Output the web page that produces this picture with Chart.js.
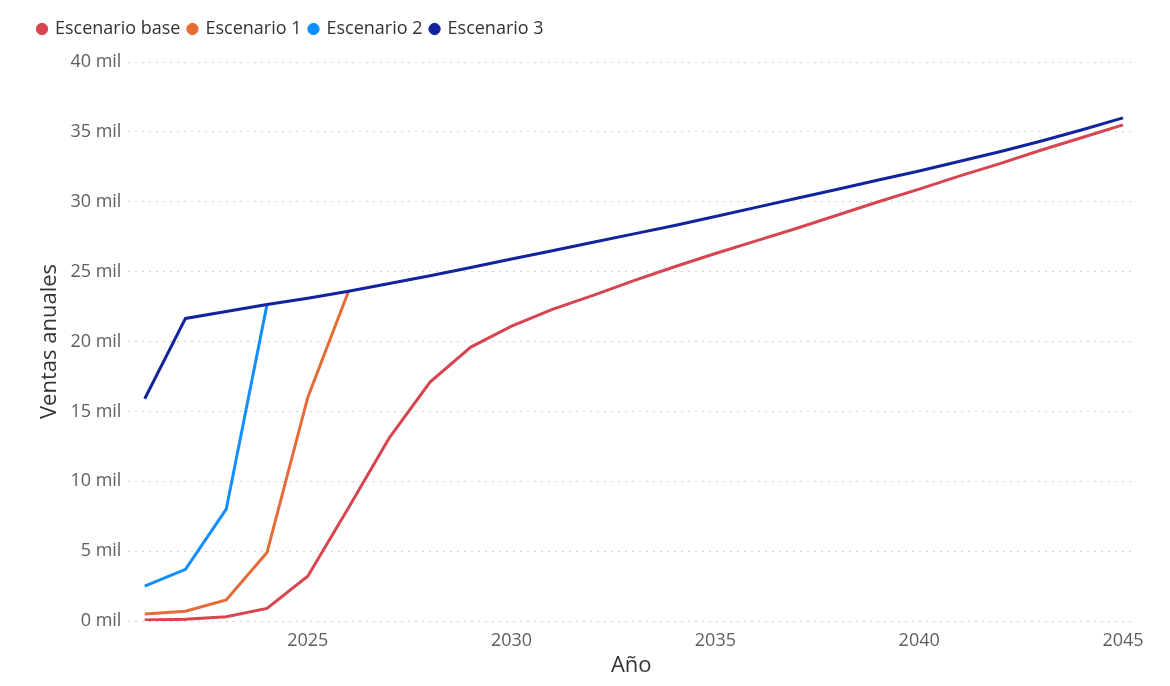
<!DOCTYPE html>
<html lang="es">
<head>
  <meta charset="UTF-8">
  <title>Ventas anuales por escenario</title>
  <script src="https://cdn.jsdelivr.net/npm/chart.js"></script>
  <style>
    html, body { margin: 0; padding: 0; background: #fff; }
    #wrap { width: 1170px; height: 686px; }
  </style>
</head>
<body>
  <div id="wrap"><canvas id="grafico"></canvas></div>

  <script>
    const anios = [2021, 2022, 2023, 2024, 2025, 2026, 2027, 2028, 2029, 2030, 2031, 2032, 2033,
                   2034, 2035, 2036, 2037, 2038, 2039, 2040, 2041, 2042, 2043, 2044, 2045];

    const escenarioBase = [70, 120, 300, 900, 3200, 8100, 13100, 17100, 19600, 21100, 22300, 23300, 24350,
                           25350, 26300, 27200, 28100, 29050, 30000, 30900, 31850, 32750, 33700, 34600, 35500];
    const escenario1 = [500, 700, 1500, 4900, 16000, 23600];
    const escenario2 = [2500, 3700, 8000, 22650];
    const escenario3 = [15900, 21650, 22150, 22650, 23100, 23600, 24150, 24700, 25300, 25900, 26500, 27100, 27700,
                        28300, 28950, 29600, 30250, 30900, 31550, 32200, 32900, 33600, 34350, 35150, 36000];

    const ticksX = [2025, 2030, 2035, 2040, 2045];
    const ticksY = [0, 5000, 10000, 15000, 20000, 25000, 30000, 35000, 40000];

    const puntos = (serie) => serie.map((v, i) => ({ x: anios[i], y: v }));

    const fuente = "'Open Sans', 'Noto Sans', sans-serif";

    // deja mas aire entre la leyenda y el area del grafico
    const espacioLeyenda = {
      id: 'espacioLeyenda',
      beforeInit(chart) {
        const fitOriginal = chart.legend.fit;
        chart.legend.fit = function () {
          fitOriginal.bind(chart.legend)();
          this.height += 14;
        };
      }
    };

    const ctx = document.getElementById('grafico').getContext('2d');
    const chart = new Chart(ctx, {
      type: 'line',
      data: {
        datasets: [
          { label: 'Escenario base', data: puntos(escenarioBase), borderColor: '#D64550', backgroundColor: '#D64550', order: 1 },
          { label: 'Escenario 1', data: puntos(escenario1), borderColor: '#E66C37', backgroundColor: '#E66C37', order: 2 },
          { label: 'Escenario 2', data: puntos(escenario2), borderColor: '#118DFF', backgroundColor: '#118DFF', order: 3 },
          { label: 'Escenario 3', data: puntos(escenario3), borderColor: '#12239E', backgroundColor: '#12239E', order: 0 }
        ]
      },
      options: {
        animation: false,
        responsive: true,
        maintainAspectRatio: false,
        layout: { padding: { top: 12, left: 30, right: 36, bottom: 7 } },
        elements: {
          line: { borderWidth: 3, tension: 0, fill: false },
          point: { radius: 0 }
        },
        plugins: {
          tooltip: { enabled: false },
          legend: {
            position: 'top',
            align: 'start',
            labels: {
              usePointStyle: true,
              pointStyle: 'circle',
              boxWidth: 8,
              boxHeight: 8,
              padding: 8,
              color: '#333333',
              font: { family: fuente, size: 18 },
              sort: (a, b) => a.datasetIndex - b.datasetIndex
            }
          }
        },
        scales: {
          x: {
            type: 'linear',
            min: 2020.6,
            max: 2045.27,
            grid: { display: false },
            border: { display: false },
            afterBuildTicks: (eje) => { eje.ticks = ticksX.map(v => ({ value: v })); },
            ticks: {
              color: '#605E5C',
              font: { family: fuente, size: 18 },
              callback: (v) => String(v),
              padding: 1
            },
            title: {
              display: true,
              text: 'Año',
              color: '#333333',
              font: { family: fuente, size: 22 },
              padding: { top: 0, bottom: 0 }
            }
          },
          y: {
            min: 0,
            max: 40000,
            afterBuildTicks: (eje) => { eje.ticks = ticksY.map(v => ({ value: v })); },
            border: { display: false, dash: [2, 5] },
            grid: {
              color: '#D0D0D0',
              lineWidth: 1,
              drawTicks: false
            },
            ticks: {
              color: '#605E5C',
              font: { family: fuente, size: 18 },
              padding: 7,
              callback: (v) => (v / 1000) + ' mil'
            },
            title: {
              display: true,
              text: 'Ventas anuales',
              color: '#333333',
              font: { family: fuente, size: 22 },
              padding: { top: 7, bottom: 0 }
            }
          }
        }
      },
      plugins: [espacioLeyenda]
    });
  </script>
</body>
</html>
